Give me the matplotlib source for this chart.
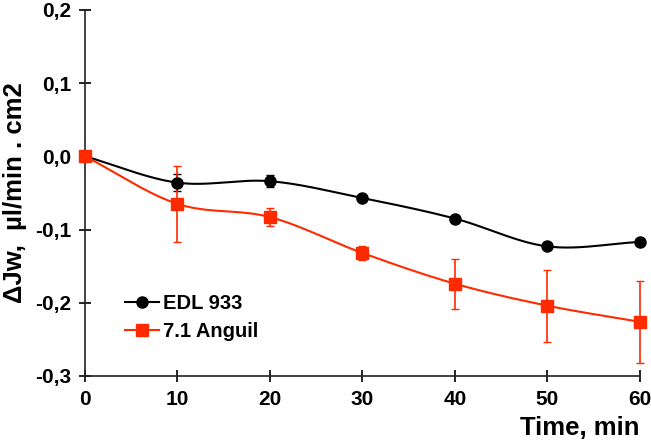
import numpy as np
import matplotlib.pyplot as plt

plt.rcParams['font.family'] = ['Liberation Sans', 'DejaVu Sans']

time = [0, 10, 20, 30, 40, 50, 60]
edl = [0.0, -0.036, -0.034, -0.057, -0.085, -0.123, -0.117]
edl_err = [0.0, 0.012, 0.008, 0.004, 0.004, 0.004, 0.004]
anguil = [0.0, -0.065, -0.083, -0.132, -0.174, -0.204, -0.226]
anguil_err = [0.0, 0.052, 0.012, 0.010, 0.034, 0.049, 0.056]

red = '#ff2a00'


def smooth(x, y, n=30):
    # Catmull-Rom spline through the points (like excel smoothed lines)
    x = np.asarray(x, float)
    y = np.asarray(y, float)
    px = np.concatenate([[2 * x[0] - x[1]], x, [2 * x[-1] - x[-2]]])
    py = np.concatenate([[2 * y[0] - y[1]], y, [2 * y[-1] - y[-2]]])
    xs, ys = [], []
    t = np.linspace(0, 1, n)
    for i in range(1, len(px) - 2):
        for p, out in ((px, xs), (py, ys)):
            p0, p1, p2, p3 = p[i - 1], p[i], p[i + 1], p[i + 2]
            out.extend(0.5 * (2 * p1 + (-p0 + p2) * t
                              + (2 * p0 - 5 * p1 + 4 * p2 - p3) * t ** 2
                              + (-p0 + 3 * p1 - 3 * p2 + p3) * t ** 3))
    return xs, ys


fig = plt.figure(figsize=(6.51, 4.46), dpi=100)
ax = fig.add_axes([0.1306, 0.157, 0.852, 0.821])

sx, sy = smooth(time, edl)
ax.plot(sx, sy, color='black', lw=1.5, zorder=2, clip_on=False)
eb = ax.errorbar(time, edl, yerr=edl_err, fmt='o', color='black', ms=8,
                 capsize=3, elinewidth=1.2, zorder=3)
for art in eb.lines[0:1] + eb.lines[1] + eb.lines[2]:
    art.set_clip_on(False)
sx, sy = smooth(time, anguil)
ax.plot(sx, sy, color=red, lw=1.5, zorder=2, clip_on=False)
eb = ax.errorbar(time, anguil, yerr=anguil_err, fmt='s', color=red, ms=9,
                 capsize=3, elinewidth=1.2, zorder=3)
for art in eb.lines[0:1] + eb.lines[1] + eb.lines[2]:
    art.set_clip_on(False)

# legend entries
ax.plot([], [], '-o', color='black', ms=8, lw=1.5, label='EDL 933')
ax.plot([], [], '-s', color=red, ms=9, lw=1.5, label='7.1 Anguil')
leg = ax.legend(loc='lower left', bbox_to_anchor=(0.039, 0.045), frameon=False,
                handlelength=1.7, handletextpad=0.2, labelspacing=0.45,
                prop={'weight': 'bold', 'size': 14.5})

ax.set_xlim(0, 60)
ax.set_ylim(-0.3, 0.2)
ax.set_xticks(time)
ax.set_yticks([-0.3, -0.2, -0.1, 0.0, 0.1, 0.2])
ax.set_yticklabels(['-0,3', '-0,2', '-0,1', '0,0', '0,1', '0,2'])
ax.tick_params(direction='inout', length=8, width=1.2, labelsize=15, pad=6)
for lab in ax.get_xticklabels() + ax.get_yticklabels():
    lab.set_fontweight('bold')

ax.spines['top'].set_visible(False)
ax.spines['right'].set_visible(False)
for s in ('left', 'bottom'):
    ax.spines[s].set_linewidth(1.2)
    ax.spines[s].set_color('#222222')

ax.set_ylabel('ΔJw,  µl/min . cm2', fontsize=18.5, fontweight='bold', labelpad=6)
fig.text(0.983, 0.014, 'Time, min', ha='right', va='bottom',
         fontsize=18.5, fontweight='bold')

fig.savefig('out.png', dpi=100)
